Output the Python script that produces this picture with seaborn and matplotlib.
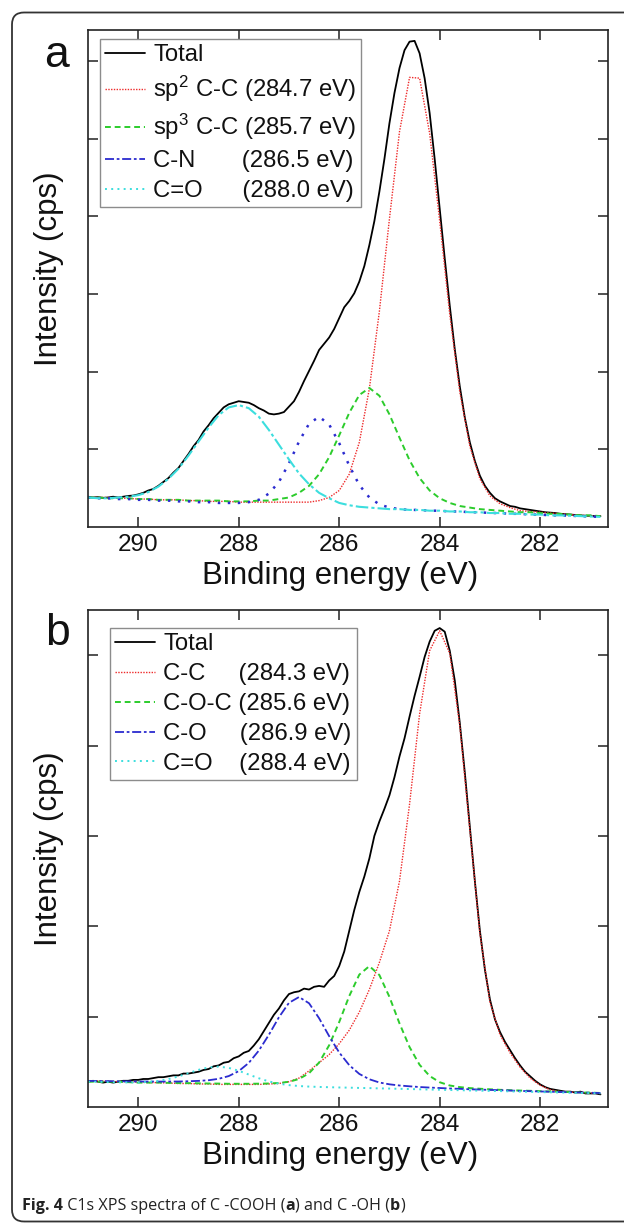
import matplotlib
matplotlib.use("Agg")
import matplotlib.pyplot as plt
from matplotlib.lines import Line2D
from matplotlib.patches import FancyBboxPatch
from matplotlib.transforms import IdentityTransform
import seaborn as sns

# ---------------- data ----------------
# fine energy grid (eV) for the measured spectra
energy_fine = [291.0, 290.9, 290.8, 290.7, 290.6, 290.5, 290.4, 290.3, 290.2, 290.1,
               290.0, 289.9, 289.8, 289.7, 289.6, 289.5, 289.4, 289.3, 289.2, 289.1,
               289.0, 288.9, 288.8, 288.7, 288.6, 288.5, 288.4, 288.3, 288.2, 288.1,
               288.0, 287.9, 287.8, 287.7, 287.6, 287.5, 287.4, 287.3, 287.2, 287.1,
               287.0, 286.9, 286.8, 286.7, 286.6, 286.5, 286.4, 286.3, 286.2, 286.1,
               286.0, 285.9, 285.8, 285.7, 285.6, 285.5, 285.4, 285.3, 285.2, 285.1,
               285.0, 284.9, 284.8, 284.7, 284.6, 284.5, 284.4, 284.3, 284.2, 284.1,
               284.0, 283.9, 283.8, 283.7, 283.6, 283.5, 283.4, 283.3, 283.2, 283.1,
               283.0, 282.9, 282.8, 282.7, 282.6, 282.5, 282.4, 282.3, 282.2, 282.1,
               282.0, 281.9, 281.8, 281.7, 281.6, 281.5, 281.4, 281.3, 281.2, 281.1,
               281.0, 280.9, 280.8]
# coarse energy grid (eV) for the fitted components
energy_fit = [291.0, 290.8, 290.6, 290.4, 290.2, 290.0, 289.8, 289.6, 289.4, 289.2,
              289.0, 288.8, 288.6, 288.4, 288.2, 288.0, 287.8, 287.6, 287.4, 287.2,
              287.0, 286.8, 286.6, 286.4, 286.2, 286.0, 285.8, 285.6, 285.4, 285.2,
              285.0, 284.8, 284.6, 284.4, 284.2, 284.0, 283.8, 283.6, 283.4, 283.2,
              283.0, 282.8, 282.6, 282.4, 282.2, 282.0, 281.8, 281.6, 281.4, 281.2,
              281.0, 280.8]

# panel a (C-COOH)
total_a = [0.39, 0.38, 0.385, 0.375, 0.38, 0.39, 0.38, 0.39, 0.40, 0.405,
           0.42, 0.44, 0.47, 0.49, 0.53, 0.58, 0.63, 0.70, 0.76, 0.85,
           0.94, 1.04, 1.12, 1.23, 1.31, 1.40, 1.47, 1.54, 1.58, 1.60,
           1.62, 1.61, 1.60, 1.57, 1.53, 1.50, 1.46, 1.45, 1.46, 1.48,
           1.55, 1.62, 1.74, 1.88, 2.01, 2.14, 2.28, 2.36, 2.44, 2.55,
           2.69, 2.83, 2.91, 3.01, 3.16, 3.36, 3.63, 3.94, 4.32, 4.74,
           5.20, 5.59, 5.91, 6.14, 6.25, 6.26, 6.10, 5.78, 5.33, 4.74,
           4.10, 3.46, 2.85, 2.29, 1.81, 1.41, 1.09, 0.85, 0.66, 0.53,
           0.44, 0.37, 0.33, 0.30, 0.27, 0.26, 0.24, 0.23, 0.22, 0.21,
           0.20, 0.19, 0.185, 0.18, 0.17, 0.165, 0.16, 0.155, 0.15, 0.145,
           0.145, 0.14, 0.14]
sp2_a = [0.38, 0.38, 0.38, 0.37, 0.37, 0.36, 0.36, 0.35, 0.35, 0.35,
         0.34, 0.34, 0.33, 0.33, 0.33, 0.32, 0.32, 0.32, 0.32, 0.32,
         0.32, 0.32, 0.32, 0.34, 0.38, 0.47, 0.68, 1.09, 1.78, 2.78,
         3.97, 5.09, 5.79, 5.78, 5.07, 3.94, 2.74, 1.74, 1.04, 0.62,
         0.40, 0.30, 0.25, 0.21, 0.20, 0.19, 0.18, 0.17, 0.16, 0.15,
         0.145, 0.14]
sp3_a = [0.38, 0.38, 0.37, 0.37, 0.37, 0.36, 0.36, 0.35, 0.35, 0.35,
         0.34, 0.34, 0.34, 0.34, 0.33, 0.33, 0.33, 0.34, 0.34, 0.36,
         0.38, 0.44, 0.53, 0.68, 0.90, 1.18, 1.47, 1.70, 1.79, 1.69,
         1.45, 1.15, 0.86, 0.63, 0.47, 0.37, 0.31, 0.27, 0.25, 0.23,
         0.22, 0.21, 0.20, 0.19, 0.19, 0.18, 0.17, 0.17, 0.16, 0.15,
         0.15, 0.14]
cn_a = [0.38, 0.37, 0.37, 0.36, 0.36, 0.35, 0.35, 0.34, 0.34, 0.33,
        0.33, 0.32, 0.32, 0.31, 0.31, 0.31, 0.32, 0.35, 0.43, 0.58,
        0.82, 1.10, 1.33, 1.42, 1.32, 1.08, 0.79, 0.54, 0.38, 0.29,
        0.25, 0.23, 0.22, 0.22, 0.21, 0.21, 0.20, 0.20, 0.19, 0.19,
        0.18, 0.18, 0.17, 0.17, 0.16, 0.16, 0.15, 0.15, 0.145, 0.14,
        0.135, 0.13]
co_a = [0.38, 0.37, 0.37, 0.38, 0.39, 0.41, 0.45, 0.52, 0.62, 0.75,
        0.92, 1.10, 1.28, 1.44, 1.54, 1.57, 1.53, 1.42, 1.25, 1.06,
        0.87, 0.69, 0.55, 0.44, 0.37, 0.31, 0.28, 0.26, 0.25, 0.24,
        0.23, 0.23, 0.22, 0.22, 0.21, 0.21, 0.20, 0.20, 0.19, 0.19,
        0.18, 0.18, 0.17, 0.17, 0.16, 0.16, 0.15, 0.15, 0.145, 0.14,
        0.135, 0.13]

# panel b (C-OH)
total_b = [0.28, 0.29, 0.28, 0.27, 0.28, 0.27, 0.28, 0.29, 0.29, 0.30,
           0.30, 0.31, 0.31, 0.32, 0.33, 0.33, 0.34, 0.35, 0.35, 0.37,
           0.37, 0.38, 0.39, 0.41, 0.42, 0.45, 0.46, 0.49, 0.50, 0.54,
           0.56, 0.60, 0.62, 0.68, 0.75, 0.84, 0.93, 1.02, 1.09, 1.18,
           1.25, 1.27, 1.28, 1.31, 1.30, 1.33, 1.34, 1.33, 1.40, 1.45,
           1.56, 1.72, 1.95, 2.18, 2.38, 2.55, 2.75, 3.00, 3.16, 3.30,
           3.45, 3.65, 3.88, 4.08, 4.32, 4.55, 4.76, 4.98, 5.15, 5.27,
           5.30, 5.26, 5.05, 4.72, 4.25, 3.70, 3.10, 2.50, 1.95, 1.52,
           1.19, 0.97, 0.83, 0.72, 0.63, 0.54, 0.46, 0.39, 0.34, 0.29,
           0.25, 0.22, 0.20, 0.19, 0.18, 0.17, 0.17, 0.16, 0.17, 0.15,
           0.15, 0.15, 0.14]
cc_b = [0.29, 0.29, 0.285, 0.28, 0.28, 0.275, 0.27, 0.27, 0.265, 0.26,
        0.26, 0.255, 0.255, 0.25, 0.25, 0.25, 0.25, 0.25, 0.255, 0.26,
        0.28, 0.32, 0.40, 0.49, 0.58, 0.70, 0.85, 1.05, 1.30, 1.60,
        1.95, 2.50, 3.35, 4.35, 5.05, 5.27, 5.02, 4.22, 3.07, 1.92,
        1.16, 0.80, 0.60, 0.44, 0.32, 0.24, 0.19, 0.17, 0.165, 0.16,
        0.155, 0.15]
coc_b = [0.28, 0.28, 0.28, 0.28, 0.275, 0.27, 0.27, 0.27, 0.267, 0.265,
         0.264, 0.262, 0.26, 0.259, 0.257, 0.257, 0.257, 0.258, 0.26, 0.266,
         0.279, 0.31, 0.374, 0.492, 0.683, 0.94, 1.228, 1.465, 1.559, 1.46,
         1.218, 0.925, 0.663, 0.467, 0.343, 0.274, 0.238, 0.22, 0.209, 0.202,
         0.196, 0.19, 0.186, 0.182, 0.179, 0.175, 0.172, 0.168, 0.165, 0.161,
         0.159, 0.155]
co_b = [0.289, 0.2875, 0.286, 0.284, 0.283, 0.282, 0.282, 0.281, 0.282, 0.282,
        0.285, 0.289, 0.296, 0.312, 0.342, 0.397, 0.488, 0.624, 0.799, 0.993,
        1.153, 1.217, 1.148, 0.982, 0.784, 0.603, 0.463, 0.366, 0.307, 0.271,
        0.251, 0.238, 0.229, 0.221, 0.215, 0.21, 0.205, 0.201, 0.196, 0.193,
        0.189, 0.186, 0.182, 0.178, 0.175, 0.172, 0.169, 0.166, 0.163, 0.16,
        0.158, 0.154]
cdo_b = [0.28, 0.28, 0.275, 0.273, 0.272, 0.272, 0.278, 0.288, 0.309, 0.338,
         0.375, 0.411, 0.438, 0.447, 0.433, 0.401, 0.359, 0.318, 0.283, 0.258,
         0.242, 0.232, 0.226, 0.222, 0.219, 0.216, 0.214, 0.211, 0.209, 0.206,
         0.204, 0.201, 0.199, 0.196, 0.193, 0.191, 0.188, 0.186, 0.183, 0.181,
         0.178, 0.176, 0.173, 0.170, 0.168, 0.165, 0.163, 0.160, 0.158, 0.155,
         0.153, 0.150]

labels_a = ["Total",
            "sp$^2$ C-C (284.7 eV)",
            "sp$^3$ C-C (285.7 eV)",
            "C-N       (286.5 eV)",
            "C=O      (288.0 eV)"]
labels_b = ["Total",
            "C-C     (284.3 eV)",
            "C-O-C (285.6 eV)",
            "C-O     (286.9 eV)",
            "C=O    (288.4 eV)"]
x_ticks = [290, 288, 286, 284, 282]
x_tick_labels = ["290", "288", "286", "284", "282"]
y_ticks_a = [1, 2, 3, 4, 5, 6]
y_ticks_b = [1, 2, 3, 4, 5]
caption_parts = [("Fig. 4", "bold"), (" C1s XPS spectra of C -COOH (", "normal"),
                 ("a", "bold"), (") and C -OH (", "normal"), ("b", "bold"),
                 (")", "normal")]

# ---------------- styling ----------------
sns.set_theme(style="ticks")
plt.rcParams['font.family'] = ['Liberation Sans', 'DejaVu Sans']
plt.rcParams['mathtext.fontset'] = 'custom'
plt.rcParams['mathtext.rm'] = 'Liberation Sans'
plt.rcParams['mathtext.it'] = 'Liberation Sans:italic'
plt.rcParams['mathtext.bf'] = 'Liberation Sans:bold'

RED = '#ee2a2a'
GREEN = '#2ccc2c'
BLUE = '#2b2bcf'
CYAN = '#3cdede'

st_total = dict(color='black', linewidth=1.3, linestyle='-')
st_red = dict(color=RED, linewidth=1.0, linestyle=(0, (1.0, 1.0)))
st_green = dict(color=GREEN, linewidth=1.4, linestyle=(0, (3.0, 2.0)))
st_blue_dot = dict(color=BLUE, linewidth=1.8, linestyle=(0, (1.0, 3.0)))
st_blue_dd = dict(color=BLUE, linewidth=1.3, linestyle=(0, (5.0, 1.5, 1.5, 1.5)))
st_cyan_dd = dict(color=CYAN, linewidth=1.5, linestyle=(0, (6.0, 1.5, 1.5, 1.5)))
st_cyan_dot = dict(color=CYAN, linewidth=1.4, linestyle=(0, (1.0, 2.2)))

W, H = 624, 1223
fig = plt.figure(figsize=(W / 100, H / 100), dpi=100)
ax_a = fig.add_axes([88 / W, 1 - 527 / H, 520 / W, 497 / H])
ax_b = fig.add_axes([88 / W, 1 - 1107 / H, 520 / W, 497 / H])


def line(ax, x, y, st):
    sns.lineplot(x=x, y=y, ax=ax, estimator=None, sort=False, legend=False, **st)


# panel a
line(ax_a, energy_fine, total_a, st_total)
line(ax_a, energy_fit, sp2_a, st_red)
line(ax_a, energy_fit, sp3_a, st_green)
line(ax_a, energy_fit, cn_a, st_blue_dot)
line(ax_a, energy_fit, co_a, st_cyan_dd)
# panel b
line(ax_b, energy_fine, total_b, st_total)
line(ax_b, energy_fit, cc_b, st_red)
line(ax_b, energy_fit, coc_b, st_green)
line(ax_b, energy_fit, co_b, st_blue_dd)
line(ax_b, energy_fit, cdo_b, st_cyan_dot)

legend_styles = [st_total, st_red, st_green, st_blue_dd, st_cyan_dot]

for ax, ymax, yt, labels, anchor in [
        (ax_a, 6.4, y_ticks_a, labels_a, (12 / 520, (527 - 39) / 497)),
        (ax_b, 5.5, y_ticks_b, labels_b, (22 / 520, (1107 - 628) / 497))]:
    ax.set_xlim(291.0, 280.65)
    ax.set_ylim(0, ymax)
    ax.set_xticks(x_ticks)
    ax.set_xticklabels(x_tick_labels)
    ax.set_yticks(yt)
    ax.tick_params(axis='both', which='major', direction='in', top=True, right=True,
                   length=7, width=1.1, color='#222222')
    ax.tick_params(axis='y', labelleft=False)
    ax.tick_params(axis='x', labelsize=17.5, pad=5, labelcolor='#111111')
    for s in ax.spines.values():
        s.set_linewidth(1.2)
        s.set_color('#222222')
    ax.set_xlabel('Binding energy (eV)', fontsize=22.5, color='#111111')
    ax.xaxis.set_label_coords(0.485, -0.068)
    ax.set_ylabel('Intensity (cps)', fontsize=22.5, color='#111111')
    ax.yaxis.set_label_coords(-0.046, 0.52)
    handles = [Line2D([], [], **st) for st in legend_styles]
    leg = ax.legend(handles, labels, loc='upper left', bbox_to_anchor=anchor,
                    borderaxespad=0, frameon=True, fancybox=False, framealpha=1,
                    edgecolor='#8c8c8c', fontsize=17.2, handlelength=1.65,
                    handletextpad=0.35, borderpad=0.22, labelspacing=0.33)
    leg.get_frame().set_linewidth(1.0)
    for t in leg.get_texts():
        t.set_color('#111111')

fig.text(57 / W, 1 - 67 / H, 'a', fontsize=32, ha='center', va='baseline', color='#111111')
fig.text(57 / W, 1 - 645 / H, 'b', fontsize=32, ha='center', va='baseline', color='#111111')

# caption, written piece by piece so that parts can be bold
renderer = fig.canvas.get_renderer()
x_px = 22.0
for txt, weight in caption_parts:
    t = fig.text(x_px / W, 1 - 1210 / H, txt, fontsize=11.6,
                 family=['Open Sans', 'DejaVu Sans'], weight=weight,
                 ha='left', va='baseline', color='#222222')
    x_px += t.get_window_extent(renderer).width

frame = FancyBboxPatch((12, 1.5), 700, 1209, boxstyle="round,pad=0,rounding_size=12",
                       transform=IdentityTransform(), fill=False,
                       edgecolor='#333333', linewidth=1.3)
fig.add_artist(frame)

fig.savefig('out.png', dpi=100)
